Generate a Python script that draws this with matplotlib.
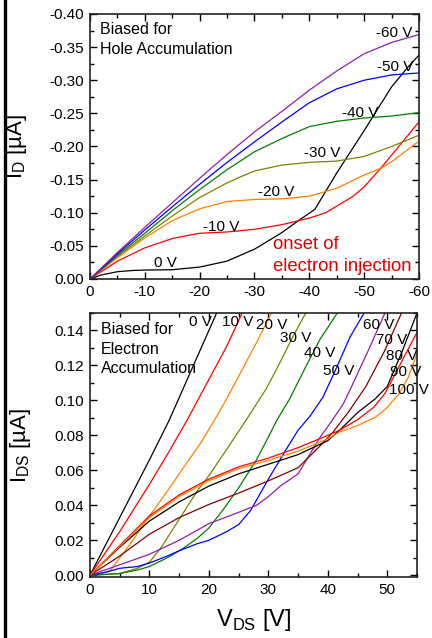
#!/usr/bin/env python3
"""
Output characteristics of an ambipolar transistor, two panels:
hole accumulation (top) and electron accumulation (bottom).
"""

import matplotlib
matplotlib.use("Agg")
import matplotlib.pyplot as plt
from matplotlib.lines import Line2D
from matplotlib.ticker import MultipleLocator

plt.rcParams['font.family'] = ['Liberation Sans', 'DejaVu Sans']
plt.rcParams['mathtext.fontset'] = 'custom'
plt.rcParams['mathtext.rm'] = 'Liberation Sans'
plt.rcParams['axes.unicode_minus'] = False

# ---- top panel: hole accumulation (V_G = 0 ... -60 V) ----
hole_gate_labels = ['0 V', '-10 V', '-20 V', '-30 V', '-40 V', '-50 V', '-60 V']
hole_colors = ['black', '#ff0000', '#ff8000', '#808000', '#008000', '#0000ff', '#8e1fa8']

hole_vd = [
    [0, -2, -5, -8, -10, -15, -20, -25, -30, -35, -38, -41, -45, -50, -55, -58, -60],
    [0, -5, -10, -15, -18, -20, -25, -30, -35, -40, -43, -45, -48, -50, -53, -55, -58, -60],
    [0, -5, -10, -15, -20, -25, -30, -35, -40, -45, -50, -53, -55, -60],
    [0, -5, -10, -15, -20, -25, -27.4, -30, -35, -40, -45, -50, -55, -60],
    [0, -5, -10, -15, -20, -25, -30, -35, -40, -45, -50, -55, -60],
    [0, -5, -10, -15, -20, -25, -30, -35, -40, -45, -50, -55, -60],
    [0, -5, -10, -15, -20, -25, -30, -35, -40, -45, -50, -55, -60],
]
hole_id = [
    [0, -0.006, -0.011, -0.013, -0.0135, -0.014, -0.018, -0.027, -0.045, -0.07, -0.088, -0.105,
     -0.16, -0.224, -0.29, -0.32, -0.338],
    [0, -0.027, -0.047, -0.061, -0.066, -0.069, -0.071, -0.075, -0.082, -0.092, -0.10, -0.11,
     -0.125, -0.139, -0.167, -0.187, -0.217, -0.237],
    [0, -0.032, -0.062, -0.088, -0.106, -0.117, -0.12, -0.121, -0.125, -0.137, -0.157, -0.167,
     -0.177, -0.208],
    [0, -0.034, -0.065, -0.095, -0.123, -0.145, -0.154, -0.163, -0.172, -0.176, -0.178, -0.185,
     -0.2, -0.217],
    [0, -0.036, -0.069, -0.103, -0.135, -0.165, -0.192, -0.212, -0.23, -0.238, -0.243, -0.246, -0.251],
    [0, -0.038, -0.074, -0.109, -0.143, -0.176, -0.207, -0.237, -0.266, -0.287, -0.300, -0.308, -0.311],
    [0, -0.04, -0.078, -0.115, -0.152, -0.188, -0.222, -0.253, -0.285, -0.314, -0.34, -0.357, -0.369],
]
hole_label_x = [-13.8, -24.0, -34.0, -42.4, -49.2, -55.6, -55.4]
hole_label_y = [-0.024, -0.079, -0.132, -0.190, -0.250, -0.320, -0.372]

# ---- bottom panel: electron accumulation (V_G = 0 ... 100 V) ----
elec_gate_labels = ['0 V', '10 V', '20 V', '30 V', '40 V', '50 V', '60 V', '70 V', '80 V', '90 V', '100 V']
elec_colors = ['black', '#ff0000', '#ff8000', '#808000', '#008000', '#0000ff', '#8e1fa8',
               '#800000', 'black', '#ff0000', '#ff8000']

elec_vds = [
    [0, 5, 10, 13.3, 17, 21.3],
    [0, 5, 10, 13, 16.3, 20, 23, 25.6],
    [0, 2, 3.5, 7, 10, 13, 16, 18.5, 20.9, 23, 25.5, 28, 30.5],
    [0, 3, 5, 8, 10, 12, 15, 18, 20, 23, 26.5, 29.7, 32, 34.2, 36.3],
    [0, 5, 8, 10, 13, 15.5, 18, 20, 22.5, 25, 28, 30, 31.4, 33.6, 36.4, 38.7, 41.6],
    [0, 3, 5, 8, 10, 13, 15, 18, 20, 23, 25, 27, 30, 33, 35, 37, 39.2, 41.5, 43.7, 46.1],
    [0, 5, 10, 15, 20, 25, 28, 30, 32, 35, 38.7, 40, 42.6, 44, 47, 49.6],
    [0, 5, 10, 15, 20, 25, 30, 35, 38.7, 40.9, 43.6, 46.4, 49.5, 52.4],
    [0, 5, 10, 15, 20, 25, 30, 35, 40, 42, 45, 48, 50, 52.5, 55],
    [0, 5, 10, 15, 20, 25, 30, 35, 40, 42, 45, 47.7, 49.6, 51, 53, 55],
    [0, 5, 10, 15, 20, 25, 30, 35, 40, 42, 45, 48, 50, 52, 53.5, 55],
]
elec_ids = [
    [0, 0.033, 0.066, 0.0885, 0.117, 0.15],
    [0, 0.025, 0.052, 0.069, 0.0885, 0.112, 0.131, 0.15],
    [0, 0.001, 0.003, 0.019, 0.034, 0.048, 0.063, 0.075, 0.0885, 0.101, 0.117, 0.133, 0.15],
    [0, 0.0005, 0.001, 0.004, 0.0075, 0.016, 0.032, 0.048, 0.057, 0.072, 0.09, 0.107, 0.122,
     0.137, 0.15],
    [0, 0.001, 0.003, 0.005, 0.010, 0.015, 0.021, 0.027, 0.038, 0.050, 0.066, 0.079, 0.0885,
     0.101, 0.12, 0.135, 0.15],
    [0, 0.002, 0.004, 0.005, 0.007, 0.011, 0.014, 0.018, 0.020, 0.025, 0.029, 0.037, 0.055,
     0.072, 0.083, 0.091, 0.102, 0.119, 0.136, 0.15],
    [0, 0.006, 0.012, 0.020, 0.0295, 0.036, 0.040, 0.045, 0.051, 0.058, 0.079, 0.085, 0.098,
     0.108, 0.13, 0.15],
    [0, 0.011, 0.0235, 0.033, 0.0405, 0.047, 0.054, 0.0615, 0.074, 0.082, 0.094, 0.108, 0.128, 0.15],
    [0, 0.016, 0.031, 0.042, 0.051, 0.058, 0.0635, 0.069, 0.077, 0.083, 0.093, 0.101, 0.108,
     0.128, 0.15],
    [0, 0.017, 0.034, 0.046, 0.055, 0.062, 0.067, 0.073, 0.080, 0.083, 0.089, 0.096, 0.104,
     0.113, 0.126, 0.139],
    [0, 0.0165, 0.033, 0.045, 0.054, 0.061, 0.0657, 0.071, 0.078, 0.082, 0.0856, 0.0904, 0.096,
     0.104, 0.113, 0.127],
]
elec_label_x = [18.5, 24.8, 30.5, 34.6, 38.6, 41.8, 48.5, 50.7, 52.4, 53.1, 53.7]
elec_label_y = [0.1448, 0.1448, 0.1433, 0.1356, 0.127, 0.117, 0.1433, 0.1346, 0.1253, 0.1163, 0.1057]


def style_axis(ax):
    ax.tick_params(which='both', direction='in', top=True, right=True, labelsize=11,
                   width=1.0, pad=4)
    ax.tick_params(which='major', length=5)
    ax.tick_params(which='minor', length=3)
    for sp in ax.spines.values():
        sp.set_linewidth(1.2)
        sp.set_color('#222222')


def main():
    fig = plt.figure(figsize=(4.32, 6.38), dpi=100)

    # thick border line on the left edge
    fig.add_artist(Line2D([5 / 432, 5 / 432], [0, 1], transform=fig.transFigure,
                          color='black', lw=2.4))

    # top panel
    ax1 = fig.add_axes([0.2083, 0.5627, 0.7616, 0.4154])
    for vd, idd, c in zip(hole_vd, hole_id, hole_colors):
        ax1.plot(vd, idd, color=c, lw=0.9)
    for lab, x, y in zip(hole_gate_labels, hole_label_x, hole_label_y):
        ax1.text(x, y, lab, ha='center', va='center', fontsize=11)
    ax1.set_xlim(0, -60)
    ax1.set_ylim(0, -0.40)
    ax1.xaxis.set_major_locator(MultipleLocator(10))
    ax1.xaxis.set_minor_locator(MultipleLocator(5))
    ax1.yaxis.set_major_locator(MultipleLocator(0.05))
    ax1.yaxis.set_minor_locator(MultipleLocator(0.025))
    ax1.yaxis.set_major_formatter(lambda v, p: f'{v:.2f}')
    style_axis(ax1)
    ax1.text(-1.8, -0.376, 'Biased for', ha='left', va='center', fontsize=11.5)
    ax1.text(-1.8, -0.347, 'Hole Accumulation', ha='left', va='center', fontsize=11.5)
    ax1.text(-33.3, -0.052, 'onset of', ha='left', va='center', fontsize=13.3, color='#e00000')
    ax1.text(-33.3, -0.019, 'electron injection', ha='left', va='center', fontsize=13.3,
             color='#e00000')
    ax1.set_ylabel(r'I$_\mathregular{D}$ [µA]', fontsize=16)
    ax1.yaxis.set_label_coords(-0.185, 0.5)

    # bottom panel
    ax2 = fig.add_axes([0.2083, 0.0956, 0.757, 0.4138])
    for vd, idd, c in zip(elec_vds, elec_ids, elec_colors):
        ax2.plot(vd, idd, color=c, lw=0.9)
    for lab, x, y in zip(elec_gate_labels, elec_label_x, elec_label_y):
        ax2.text(x, y, lab, ha='center', va='center', fontsize=11, clip_on=False)
    ax2.set_xlim(0, 55)
    ax2.set_ylim(-0.001, 0.150)
    ax2.xaxis.set_major_locator(MultipleLocator(10))
    ax2.xaxis.set_minor_locator(MultipleLocator(5))
    ax2.yaxis.set_major_locator(MultipleLocator(0.02))
    ax2.yaxis.set_minor_locator(MultipleLocator(0.01))
    ax2.yaxis.set_major_formatter(lambda v, p: f'{v:.2f}')
    style_axis(ax2)
    ax2.text(1.85, 0.1404, 'Biased for', ha='left', va='center', fontsize=11.5)
    ax2.text(1.85, 0.1294, 'Electron', ha='left', va='center', fontsize=11.5)
    ax2.text(1.85, 0.1184, 'Accumulation', ha='left', va='center', fontsize=11.5)
    ax2.set_ylabel(r'I$_\mathregular{DS}$ [µA]', fontsize=16)
    ax2.yaxis.set_label_coords(-0.174, 0.5)
    ax2.set_xlabel(r'V$_\mathregular{DS}$ [V]', fontsize=17)
    ax2.xaxis.set_label_coords(0.5, -0.112)

    fig.savefig('out.png', dpi=100)


if __name__ == "__main__":
    main()
